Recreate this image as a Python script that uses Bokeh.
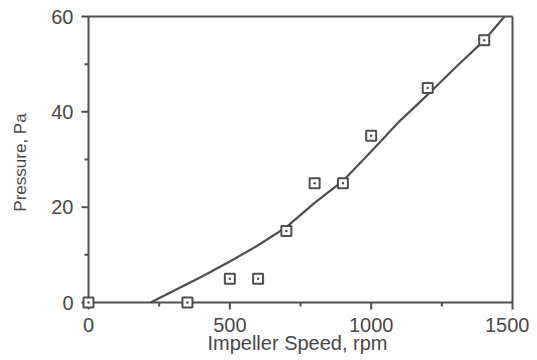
from bokeh.plotting import figure
from bokeh.models import FixedTicker, Range1d
from bokeh.embed import file_html
from bokeh.resources import INLINE

# measured data
speed = [0, 350, 500, 600, 700, 800, 900, 1000, 1200, 1400]
pressure = [0, 0, 5, 5, 15, 25, 25, 35, 45, 55]

# fitted curve
fit_speed = [220, 300, 400, 500, 600, 700, 800, 900, 1000, 1100, 1200, 1300, 1400, 1472]
fit_pressure = [0, 2.4, 5.4, 8.6, 12.0, 15.8, 20.9, 25.5, 31.7, 38.0, 43.6, 49.4, 55.0, 60.0]

x_ticks = [0, 500, 1000, 1500]
x_minor = [250, 750, 1250]
y_ticks = [0, 20, 40, 60]
y_minor = [10, 30, 50]

INK = "#4e4e4e"
TXT = "#484848"
FONT = "Liberation Sans"

# layout: axis box 424 x 286 px, with padding so edge markers and ticks are not clipped
box_w, box_h = 424, 286
pad_lo, pad_hi = 8, 2
x0, x1 = x_ticks[0], x_ticks[-1]
y0, y1 = y_ticks[0], y_ticks[-1]
sx = (x1 - x0) / box_w
sy = (y1 - y0) / box_h
maj, mnr = 7, 4

p = figure(frame_width=box_w + pad_lo + pad_hi, frame_height=box_h + pad_lo + pad_hi,
           output_backend="svg", toolbar_location=None,
           x_range=Range1d(x0 - pad_lo * sx, x1 + pad_hi * sx),
           y_range=Range1d(y0 - pad_lo * sy, y1 + pad_hi * sy),
           min_border_left=80, min_border_right=15, min_border_top=14, min_border_bottom=46)

p.xgrid.visible = False
p.ygrid.visible = False
p.outline_line_color = None

# axis lines and frame lines
p.line([x0, x1], [y0, y0], line_color=INK, line_width=2)
p.line([x0, x0], [y0, y1], line_color=INK, line_width=2)
p.line([x0, x1], [y1, y1], line_color=INK, line_width=2)
p.line([x1, x1], [y0, y1], line_color=INK, line_width=2)

# ticks (outside)
p.segment(x0=x_ticks, y0=[y0] * len(x_ticks), x1=x_ticks, y1=[y0 - maj * sy] * len(x_ticks),
          line_color=INK, line_width=2)
p.segment(x0=x_minor, y0=[y0] * len(x_minor), x1=x_minor, y1=[y0 - mnr * sy] * len(x_minor),
          line_color=INK, line_width=2)
p.segment(x0=[x0] * len(y_ticks), y0=y_ticks, x1=[x0 - maj * sx] * len(y_ticks), y1=y_ticks,
          line_color=INK, line_width=2)
p.segment(x0=[x0] * len(y_minor), y0=y_minor, x1=[x0 - mnr * sx] * len(y_minor), y1=y_minor,
          line_color=INK, line_width=2)

p.line(fit_speed, fit_pressure, line_color=INK, line_width=2.2)
p.scatter(speed, pressure, marker="square_dot", size=10, line_color=INK,
          fill_color="white", line_width=2)

p.xaxis.ticker = FixedTicker(ticks=x_ticks, minor_ticks=x_minor)
p.yaxis.ticker = FixedTicker(ticks=y_ticks, minor_ticks=y_minor)

for ax in (p.xaxis[0], p.yaxis[0]):
    ax.axis_line_color = None
    ax.major_tick_line_color = None
    ax.minor_tick_line_color = None
    ax.major_tick_in = 0
    ax.minor_tick_in = 0
    ax.major_tick_out = 0
    ax.minor_tick_out = 0
    ax.major_label_text_font = FONT
    ax.major_label_text_font_size = "20px"
    ax.major_label_text_color = TXT
    ax.axis_label_text_font = FONT
    ax.axis_label_text_font_style = "normal"
    ax.axis_label_text_color = TXT

p.xaxis.axis_label = "Impeller Speed, rpm"
p.xaxis.axis_label_text_font_size = "20px"
p.xaxis.major_label_standoff = 7
p.xaxis.axis_label_standoff = -3

p.yaxis.axis_label = "Pressure, Pa"
p.yaxis.axis_label_text_font_size = "17px"
p.yaxis.major_label_standoff = 7
p.yaxis.axis_label_standoff = 18

open("out.html", "w").write(file_html(p, INLINE))
